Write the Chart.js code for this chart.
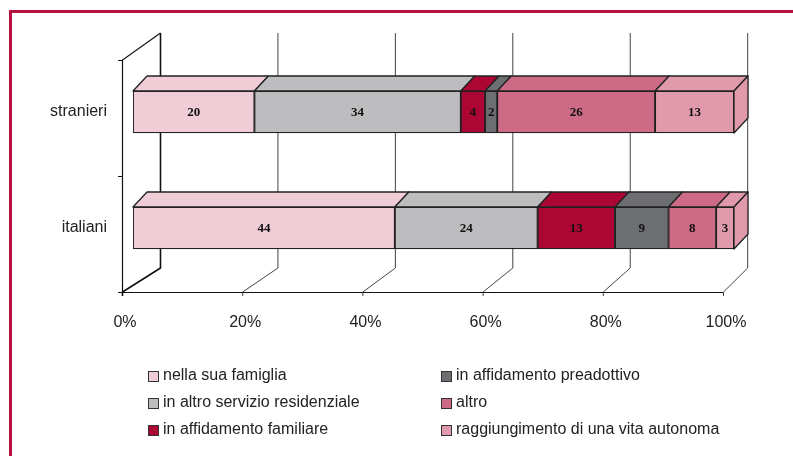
<!DOCTYPE html>
<html>
<head>
<meta charset="utf-8">
<script src="https://cdn.jsdelivr.net/npm/chart.js@4/dist/chart.umd.min.js"></script>
<style>
  body { margin: 0; background: #fff; }
  canvas { display: block; }
</style>
</head>
<body>
<canvas id="grafico" width="793" height="456"></canvas>
<script>
// ===== DATI =====
const categorie = ['stranieri', 'italiani'];
const nomiSerie = [
  'nella sua famiglia',
  'in altro servizio residenziale',
  'in affidamento familiare',
  'in affidamento preadottivo',
  'altro',
  'raggiungimento di una vita autonoma'
];
const nellaSuaFamiglia = [20, 44];
const altroServizio = [34, 24];
const affidamentoFamiliare = [4, 13];
const affidamentoPreadottivo = [2, 9];
const altro = [26, 8];
const vitaAutonoma = [13, 3];
const tickPercentuali = [0, 20, 40, 60, 80, 100];

const colori = ['#f0ccd6', '#bdbdc0', '#ab0634', '#6d6e72', '#cd6a86', '#e09aab'];
const serie = [nellaSuaFamiglia, altroServizio, affidamentoFamiliare, affidamentoPreadottivo, altro, vitaAutonoma];

// totale per riga (barre al 100%)
const totali = categorie.map((c, i) => serie.reduce((s, arr) => s + arr[i], 0));

const fontSans = '"Liberation Sans", Arial, sans-serif';
const DX = 14, DY = 15; // profondità 3D delle barre

// ===== PLUGIN 3D =====
const cornice3D = {
  id: 'cornice3D',
  beforeDraw(chart) {
    const ctx = chart.ctx;
    ctx.save();
    ctx.fillStyle = '#b5123f';
    ctx.fillRect(9, 10, chart.width - 9, 3);
    ctx.fillRect(9, 10, 3, chart.height - 10);
    ctx.restore();
  },
  beforeDatasetsDraw(chart) {
    const ctx = chart.ctx;
    const x = chart.scales.x;
    const a = chart.chartArea;
    const fy = a.bottom + 6, by = a.bottom - 18, topBack = a.top - 21, topFront = a.top + 6;
    const fx = v => x.getPixelForValue(v) - 11;
    const bx = v => x.getPixelForValue(0) + 27 + (x.getPixelForValue(v) - x.getPixelForValue(0)) * 0.977;
    ctx.save();
    ctx.strokeStyle = '#444';
    ctx.lineWidth = 1;
    tickPercentuali.forEach(v => {
      // parete di fondo
      ctx.lineWidth = v === 0 ? 1.6 : 1;
      ctx.strokeStyle = v === 0 ? '#111' : '#444';
      ctx.beginPath();
      ctx.moveTo(bx(v) + 0.5, topBack);
      ctx.lineTo(bx(v) + 0.5, by);
      // pavimento
      ctx.lineTo(fx(v) + 0.5, fy);
      ctx.lineTo(fx(v) + 0.5, fy + 4);
      ctx.stroke();
    });
    ctx.strokeStyle = '#111';
    ctx.lineWidth = 1.2;
    ctx.beginPath();
    ctx.moveTo(fx(0), fy + 0.5);
    ctx.lineTo(fx(100), fy + 0.5);
    // parete sinistra
    ctx.moveTo(fx(0) + 0.5, fy);
    ctx.lineTo(fx(0) + 0.5, topFront);
    ctx.lineTo(bx(0) + 0.5, topBack);
    [topFront, (topFront + fy) / 2, fy].forEach(yy => {
      ctx.moveTo(fx(0) - 4, Math.round(yy) + 0.5);
      ctx.lineTo(fx(0), Math.round(yy) + 0.5);
    });
    ctx.stroke();
    ctx.restore();
  },
  afterDatasetsDraw(chart) {
    const ctx = chart.ctx;
    const n = chart.data.datasets.length;
    ctx.save();
    ctx.strokeStyle = '#222';
    ctx.lineWidth = 1.3;
    ctx.lineJoin = 'round';
    chart.data.datasets.forEach((ds, di) => {
      const meta = chart.getDatasetMeta(di);
      meta.data.forEach((bar, i) => {
        const p = bar.getProps(['x', 'y', 'base', 'height'], true);
        const top = p.y - p.height / 2, bottom = p.y + p.height / 2;
        ctx.fillStyle = ds.backgroundColor;
        ctx.beginPath();
        ctx.moveTo(p.base, top);
        ctx.lineTo(p.x, top);
        ctx.lineTo(p.x + DX, top - DY);
        ctx.lineTo(p.base + DX, top - DY);
        ctx.closePath();
        ctx.fill();
        ctx.stroke();
        if (di === n - 1) {
          ctx.beginPath();
          ctx.moveTo(p.x, top);
          ctx.lineTo(p.x + DX, top - DY);
          ctx.lineTo(p.x + DX, bottom - DY);
          ctx.lineTo(p.x, bottom);
          ctx.closePath();
          ctx.fill();
          ctx.stroke();
        }
        // etichetta valore
        ctx.fillStyle = '#111';
        ctx.font = 'bold 13px "Liberation Serif", serif';
        ctx.textAlign = 'center';
        ctx.textBaseline = 'middle';
        ctx.fillText(ds.valori[i], (p.base + p.x) / 2, p.y + 1);
      });
    });
    ctx.restore();
  },
  afterDraw(chart) {
    // legenda su due colonne
    const ctx = chart.ctx;
    const colX = [148, 441], rigaY = [376, 403, 430];
    ctx.save();
    ctx.font = '16px ' + fontSans;
    ctx.textBaseline = 'middle';
    ctx.textAlign = 'left';
    chart.data.datasets.forEach((ds, i) => {
      const cx = colX[Math.floor(i / 3)], cy = rigaY[i % 3];
      ctx.fillStyle = ds.backgroundColor;
      ctx.fillRect(cx, cy - 5, 11, 11);
      ctx.strokeStyle = '#333';
      ctx.strokeRect(cx + 0.5, cy - 4.5, 10, 10);
      ctx.fillStyle = '#222';
      ctx.fillText(ds.label, cx + 15, cy);
    });
    ctx.restore();
  }
};

new Chart(document.getElementById('grafico'), {
  type: 'bar',
  data: {
    labels: categorie,
    datasets: serie.map((arr, k) => ({
      label: nomiSerie[k],
      valori: arr,
      data: arr.map((v, i) => v / totali[i] * 100),
      backgroundColor: colori[k],
      borderColor: '#222',
      borderWidth: 1.3,
      borderSkipped: false,
      barThickness: 42
    }))
  },
  options: {
    indexAxis: 'y',
    responsive: false,
    animation: false,
    devicePixelRatio: 1,
    layout: { padding: { top: 54, right: 59, bottom: 120, left: 0 } },
    plugins: { legend: { display: false }, tooltip: { enabled: false } },
    scales: {
      x: {
        stacked: true,
        min: 0,
        max: 100,
        afterBuildTicks: s => { s.ticks = tickPercentuali.map(v => ({ value: v })); },
        afterFit: s => { s.height = 50; },
        grid: { display: false, drawTicks: false },
        border: { display: false },
        ticks: {
          callback: v => v + '%',
          labelOffset: -8,
          padding: 27,
          color: '#222',
          font: { family: fontSans, size: 16 }
        }
      },
      y: {
        stacked: true,
        afterFit: s => { s.width = 133; },
        grid: { display: false, drawTicks: false },
        border: { display: false },
        ticks: {
          padding: 26,
          color: '#222',
          font: { family: fontSans, size: 16 }
        }
      }
    }
  },
  plugins: [cornice3D]
});
</script>
</body>
</html>
